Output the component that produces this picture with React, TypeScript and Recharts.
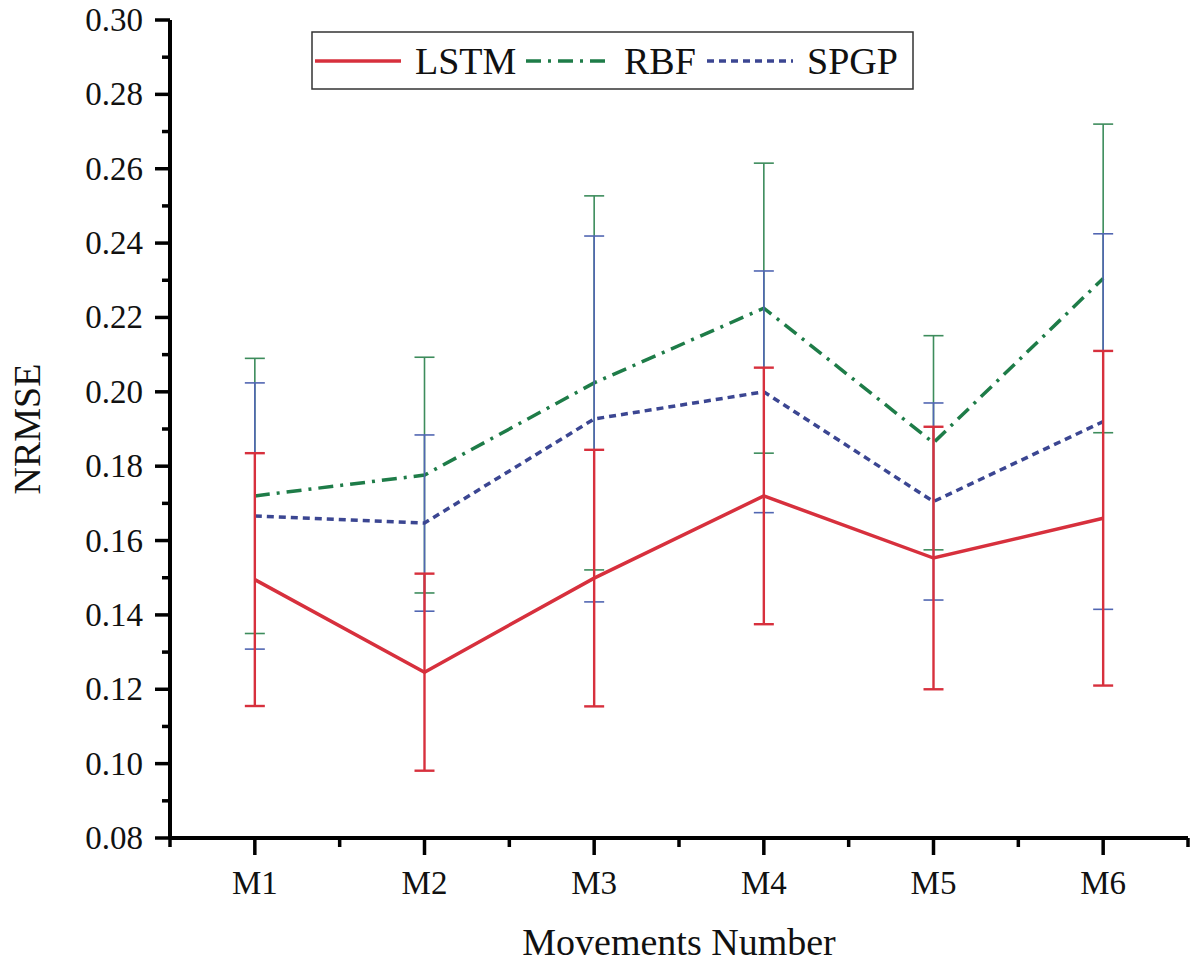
import React from "react";
import { LineChart, Line, XAxis, YAxis, ErrorBar, Legend } from "recharts";

const categories = ["M1", "M2", "M3", "M4", "M5", "M6"];
const lstmMean = [0.1495, 0.1246, 0.1499, 0.172, 0.1553, 0.166];
const lstmErr = [0.034, 0.0265, 0.0345, 0.0345, 0.0353, 0.045];
const rbfMean = [0.172, 0.1776, 0.2024, 0.2225, 0.1863, 0.2305];
const rbfErr = [0.037, 0.0317, 0.0503, 0.039, 0.0288, 0.0415];
const spgpMean = [0.1666, 0.1647, 0.1927, 0.2, 0.1705, 0.192];
const spgpErr = [0.0358, 0.0237, 0.0492, 0.0325, 0.0265, 0.0505];

const xTicks = [0.5, 1, 1.5, 2, 2.5, 3, 3.5, 4, 4.5, 5, 5.5, 6, 6.5];
const yTicks = [
  0.08, 0.09, 0.1, 0.11, 0.12, 0.13, 0.14, 0.15, 0.16, 0.17, 0.18, 0.19, 0.2,
  0.21, 0.22, 0.23, 0.24, 0.25, 0.26, 0.27, 0.28, 0.29, 0.3,
];

const RED = "#d7303d";
const GREEN = "#1e7c48";
const BLUE = "#3b4692";
const FONT = "'Liberation Serif', 'Times New Roman', serif";

const data = categories.map((name, i) => ({
  x: i + 1,
  name,
  lstm: lstmMean[i],
  lstmErr: lstmErr[i],
  rbf: rbfMean[i],
  rbfErr: rbfErr[i],
  spgp: spgpMean[i],
  spgpErr: spgpErr[i],
}));

const legendItems = [
  { name: "LSTM", color: RED, dash: undefined, lineX: 4, textX: 104 },
  { name: "RBF", color: GREEN, dash: "15 7 3 7", lineX: 215, textX: 313 },
  { name: "SPGP", color: BLUE, dash: "7 5", lineX: 396, textX: 496 },
];

function XTick(props: any) {
  const { x, y, payload } = props;
  const v = payload.value;
  const major = Number.isInteger(v);
  return (
    <g>
      <line x1={x} y1={y} x2={x} y2={y + (major ? 17 : 9)} stroke="#000" strokeWidth={3.5} />
      {major && (
        <text x={x} y={y + 56} textAnchor="middle" fontSize={33} fontFamily={FONT} fill="#111">
          {categories[v - 1]}
        </text>
      )}
    </g>
  );
}

function YTick(props: any) {
  const { x, y, payload } = props;
  const v = payload.value;
  const major = Math.round(v * 100) % 2 === 0;
  return (
    <g>
      <line x1={x - (major ? 15 : 8)} y1={y} x2={x} y2={y} stroke="#000" strokeWidth={3.5} />
      {major && (
        <text x={x - 27} y={y + 11} textAnchor="end" fontSize={33} fontFamily={FONT} fill="#111">
          {v.toFixed(2)}
        </text>
      )}
    </g>
  );
}

function LegendBox() {
  return (
    <svg width={604} height={60} style={{ display: "block" }}>
      <rect x={1} y={1} width={601} height={57} fill="#fff" stroke="#333" strokeWidth={1.5} />
      {legendItems.map((it) => (
        <g key={it.name}>
          <line
            x1={it.lineX}
            y1={30}
            x2={it.lineX + 86}
            y2={30}
            stroke={it.color}
            strokeWidth={3.5}
            strokeDasharray={it.dash}
          />
          <text x={it.textX} y={43} fontSize={38} fontFamily={FONT} fill="#111">
            {it.name}
          </text>
        </g>
      ))}
    </svg>
  );
}

export default function App() {
  return (
    <div style={{ position: "absolute", left: 0, top: 0, background: "#fff" }}>
      <LineChart
        width={1192}
        height={962}
        data={data}
        margin={{ top: 20, right: 4, bottom: 0, left: 0 }}
      >
        <XAxis
          dataKey="x"
          type="number"
          domain={[0.5, 6.5]}
          ticks={xTicks}
          interval={0}
          tickSize={0}
          tickMargin={0}
          tickLine={false}
          tick={<XTick />}
          height={124}
          axisLine={{ stroke: "#000", strokeWidth: 4 }}
          allowDataOverflow
          label={{
            content: (p: any) => {
              const vb = p.viewBox;
              return (
                <text
                  x={vb.x + vb.width / 2}
                  y={955}
                  textAnchor="middle"
                  fontSize={38}
                  fontFamily={FONT}
                  fill="#111"
                >
                  Movements Number
                </text>
              );
            },
          }}
        />
        <YAxis
          type="number"
          domain={[0.08, 0.3]}
          ticks={yTicks}
          interval={0}
          tickSize={0}
          tickMargin={0}
          tickLine={false}
          tick={<YTick />}
          width={170}
          axisLine={{ stroke: "#000", strokeWidth: 4 }}
          allowDataOverflow
          label={{
            content: () => (
              <text
                x={27}
                y={429}
                transform="rotate(-90 27 429)"
                textAnchor="middle"
                dominantBaseline="central"
                fontSize={38}
                fontFamily={FONT}
                fill="#111"
              >
                NRMSE
              </text>
            ),
          }}
        />
        <Legend
          layout="horizontal"
          verticalAlign="middle"
          align="center"
          content={() => <LegendBox />}
          wrapperStyle={{ position: "absolute", left: 311, top: 31, width: 604, height: 60 }}
        />
        <Line
          dataKey="rbf"
          type="linear"
          stroke={GREEN}
          strokeWidth={3.5}
          strokeDasharray="15 7 3 7"
          dot={false}
          activeDot={false}
          isAnimationActive={false}
        >
          <ErrorBar dataKey="rbfErr" direction="y" width={10} stroke="#3d8c5c" strokeWidth={1.6} isAnimationActive={false} />
        </Line>
        <Line
          dataKey="spgp"
          type="linear"
          stroke={BLUE}
          strokeWidth={3.5}
          strokeDasharray="7 5"
          dot={false}
          activeDot={false}
          isAnimationActive={false}
        >
          <ErrorBar dataKey="spgpErr" direction="y" width={10} stroke="#5166b2" strokeWidth={1.6} isAnimationActive={false} />
        </Line>
        <Line
          dataKey="lstm"
          type="linear"
          stroke={RED}
          strokeWidth={3.5}
          dot={false}
          activeDot={false}
          isAnimationActive={false}
        >
          <ErrorBar dataKey="lstmErr" direction="y" width={10} stroke={RED} strokeWidth={2.4} isAnimationActive={false} />
        </Line>
      </LineChart>
    </div>
  );
}
